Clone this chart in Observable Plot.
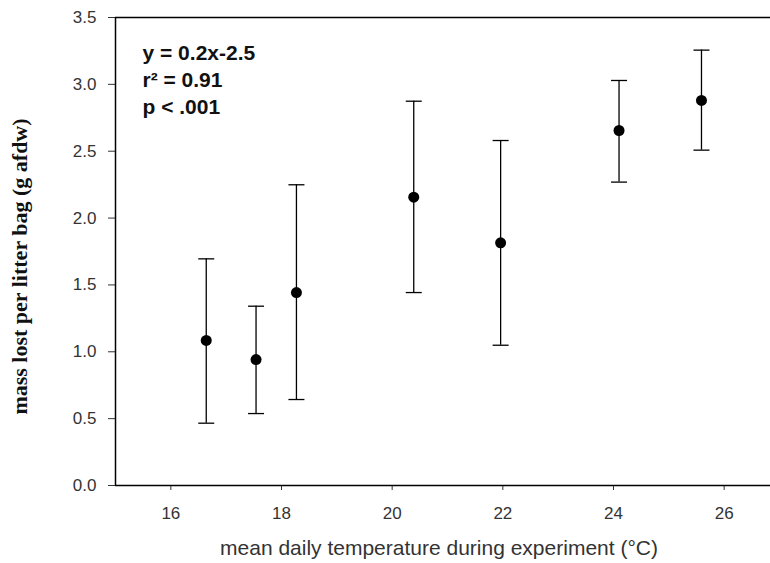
<!DOCTYPE html>
<html><head><meta charset="utf-8">
<script src="https://cdn.jsdelivr.net/npm/d3@7"></script>
<script src="https://cdn.jsdelivr.net/npm/@observablehq/plot@0.6"></script>
<style>html,body{margin:0;padding:0;background:#fff;overflow:hidden}</style>
</head><body><div id="chart"></div>
<script>
const temperature = [16.64, 17.54, 18.27, 20.39, 21.96, 24.10, 25.59];
const massLost    = [1.085, 0.942, 1.443, 2.156, 1.815, 2.655, 2.880];
const errLow      = [0.466, 0.538, 0.643, 1.443, 1.049, 2.269, 2.508];
const errHigh     = [1.695, 1.341, 2.249, 2.874, 2.580, 3.029, 3.256];
const xTicks = [16, 18, 20, 22, 24, 26];
const yTicks = [0, 0.5, 1.0, 1.5, 2.0, 2.5, 3.0, 3.5];
const xTitle = "mean daily temperature during experiment (°C)";
const yTitle = "mass lost per litter bag (g afdw)";
const statsLines = ["y = 0.2x-2.5", "r² = 0.91", "p < .001"];

const data = temperature.map((t, i) => ({t, m: massLost[i], lo: errLow[i], hi: errHigh[i]}));

const capSymbol = {draw(context, size) {
  const r = Math.sqrt(size / Math.PI);
  context.moveTo(-r, 0); context.lineTo(r, 0);
}};

const plot = Plot.plot({
  width: 770, height: 563,
  marginLeft: 115, marginRight: 0, marginTop: 17, marginBottom: 78,
  style: {fontFamily: "'Liberation Sans', Arial, sans-serif", background: "#fff", overflow: "hidden"},
  x: {domain: [15, 27], range: [115, 779]},
  y: {domain: [0, 3.5]},
  marks: [
    Plot.axisX(xTicks, {tickSize: 5, tickPadding: 16, fontSize: 17, color: "#333", label: null, tickFormat: d3.format("d")}),
    Plot.axisY(yTicks, {tickSize: 7, tickPadding: 12, fontSize: 17, color: "#333", label: null, tickFormat: d3.format(".1f")}),
    Plot.ruleX([15], {stroke: "#000", strokeWidth: 1.5}),
    Plot.ruleY([0], {stroke: "#000", strokeWidth: 1.5}),
    Plot.ruleY([3.5], {stroke: "#000", strokeWidth: 1.5}),
    Plot.ruleX(data, {x: "t", y1: "lo", y2: "hi", stroke: "#000", strokeWidth: 1.3}),
    Plot.dot(data, {x: "t", y: "lo", symbol: capSymbol, r: 8, stroke: "#000", strokeWidth: 1.3, fill: "none"}),
    Plot.dot(data, {x: "t", y: "hi", symbol: capSymbol, r: 8, stroke: "#000", strokeWidth: 1.3, fill: "none"}),
    Plot.dot(data, {x: "t", y: "m", r: 5.5, fill: "#000", stroke: "none"}),
    Plot.text([statsLines.join("\n")], {frameAnchor: "top-left", dx: 27, dy: 23, fontSize: 21, fontWeight: "bold", lineHeight: 1.3, fill: "#111"}),
    Plot.text([xTitle], {frameAnchor: "bottom", dx: -4, dy: 63, fontSize: 21, fill: "#333", lineAnchor: "middle"}),
    Plot.text([yTitle], {frameAnchor: "left", rotate: -90, dx: -96, dy: 15, fontSize: 22, fontWeight: "bold", fontFamily: "'Liberation Serif', 'Times New Roman', serif", fill: "#111", textAnchor: "middle", lineAnchor: "middle"})
  ]
});
document.getElementById("chart").appendChild(plot);
</script>
</body></html>
